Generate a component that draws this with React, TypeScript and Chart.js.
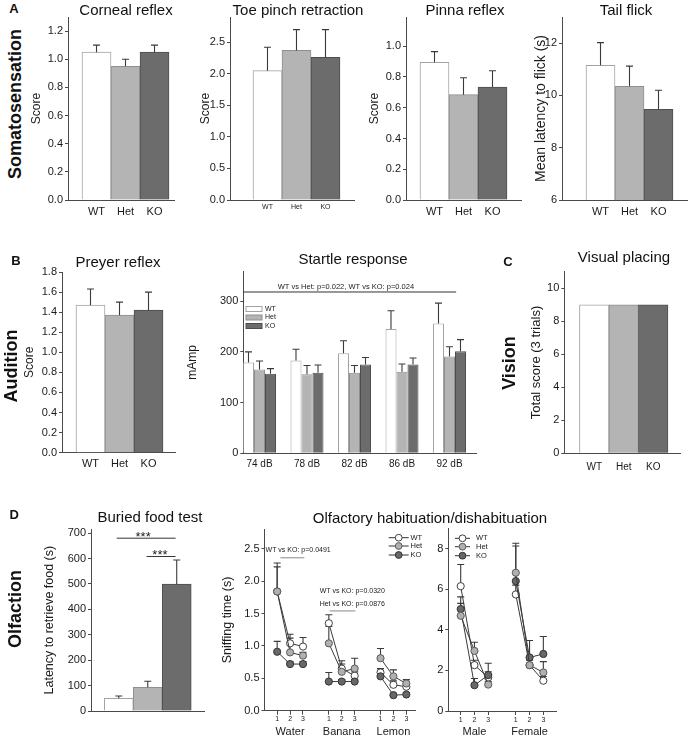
import React, { useEffect, useRef } from 'react';
import { Chart, registerables } from 'chart.js';
Chart.register(...registerables);

const FONT = '"Liberation Sans", Arial, Helvetica, sans-serif';
Chart.defaults.font.family = FONT;
Chart.defaults.color = '#1a1a1a';

// ---------------- data ----------------
const groups = ['WT', 'Het', 'KO'];

const cornealMean = [1.05, 0.95, 1.05];
const cornealTop = [1.1, 1.0, 1.1];
const cornealTicks = [0, 0.2, 0.4, 0.6, 0.8, 1.0, 1.2];

const toeMean = [2.05, 2.37, 2.26];
const toeTop = [2.42, 2.7, 2.7];
const toeTicks = [0, 0.5, 1.0, 1.5, 2.0, 2.5];

const pinnaMean = [0.895, 0.685, 0.735];
const pinnaTop = [0.965, 0.795, 0.84];
const pinnaTicks = [0, 0.2, 0.4, 0.6, 0.8, 1.0];

const tailMean = [11.15, 10.35, 9.47];
const tailTop = [12.02, 11.12, 10.2];
const tailTicks = [6, 8, 10, 12];

const preyerMean = [1.47, 1.37, 1.42];
const preyerTop = [1.63, 1.5, 1.6];
const preyerTicks = [0, 0.2, 0.4, 0.6, 0.8, 1.0, 1.2, 1.4, 1.6, 1.8];

const startleLevels = ['74 dB', '78 dB', '82 dB', '86 dB', '92 dB'];
const startleWT = [179, 183, 197, 245, 256];
const startleHet = [165, 156, 159, 161, 191];
const startleKO = [157, 159, 175, 175, 201];
const startleWTTop = [200, 205, 222, 281, 296];
const startleHetTop = [182, 173, 173, 176, 210];
const startleKOTop = [167, 174, 189, 188, 224];
const startleTicks = [0, 100, 200, 300];

const visualScore = [9, 9, 9];
const visualTicks = [0, 2, 4, 6, 8, 10];

const buriedMean = [50, 93, 499];
const buriedTop = [59, 117, 594];
const buriedTicks = [0, 100, 200, 300, 400, 500, 600, 700];

const trialLabels = ['1', '2', '3'];
const odors = ['Water', 'Banana', 'Lemon'];
const odorWT = [[1.84, 1.04, 0.99], [1.35, 0.65, 0.54], [0.59, 0.4, 0.37]];
const odorHet = [[1.84, 0.9, 0.85], [1.04, 0.6, 0.65], [0.81, 0.53, 0.42]];
const odorKO = [[0.91, 0.72, 0.72], [0.45, 0.45, 0.45], [0.53, 0.24, 0.25]];
const odorWTTop = [[2.28, 1.18, 1.13], [1.48, 0.77, 0.6], [0.65, 0.46, 0.41]];
const odorHetTop = [[2.22, 1.12, 0.9], [1.3, 0.72, 0.81], [0.96, 0.63, 0.48]];
const odorKOTop = [[1.07, 0.76, 0.76], [0.59, 0.48, 0.48], [0.56, 0.27, 0.28]];
const odorTicks = [0, 0.5, 1.0, 1.5, 2.0, 2.5];

const socials = ['Male', 'Female'];
const socialWT = [[6.15, 2.26, 1.65], [5.74, 2.26, 1.49]];
const socialHet = [[4.69, 2.96, 1.3], [6.81, 2.26, 1.9]];
const socialKO = [[5.02, 1.27, 1.77], [6.4, 2.64, 2.81]];
const socialWTTop = [[7.22, 2.5, 1.93], [6.2, 2.5, 1.7]];
const socialHetTop = [[5.3, 3.39, 1.45], [8.26, 2.6, 2.43]];
const socialKOTop = [[5.62, 1.6, 2.35], [8.13, 3.47, 3.67]];
const socialTicks = [0, 2, 4, 6, 8];

// ---------------- styles ----------------
const AX = '#4a4a4a';
const TXT = '#1a1a1a';
const ERR = '#3a3a3a';
const FILL = ['#ffffff', '#b4b4b4', '#6c6c6c'];
const EDGE = ['#a3a3a3', '#8f8f8f', '#4e4e4e'];
const MFILL = ['#ffffff', '#b0b0b0', '#686868'];
const MEDGE = ['#404040', '#5a5a5a', '#333333'];

// ---------------- plugins ----------------
function errorBars(tops: (number | null)[][], cap: number, before: boolean) {
  const draw = (chart: any) => {
    const ctx = chart.ctx;
    const ys = chart.scales.y;
    ctx.save();
    ctx.strokeStyle = ERR;
    ctx.lineWidth = 1.1;
    tops.forEach((arr, di) => {
      const meta = chart.getDatasetMeta(di);
      arr.forEach((t, i) => {
        const el: any = meta.data[i];
        if (t == null || !el) return;
        const yt = ys.getPixelForValue(t);
        ctx.beginPath();
        ctx.moveTo(el.x, el.y);
        ctx.lineTo(el.x, yt);
        ctx.moveTo(el.x - cap, yt);
        ctx.lineTo(el.x + cap, yt);
        ctx.stroke();
      });
    });
    ctx.restore();
  };
  return before ? { id: 'errBefore', beforeDatasetsDraw: draw } : { id: 'errAfter', afterDatasetsDraw: draw };
}

function annotations(items: any[]) {
  return {
    id: 'ann',
    afterDraw(chart: any) {
      const ctx = chart.ctx;
      const xs = chart.scales.x;
      const ys = chart.scales.y;
      ctx.save();
      items.forEach((it) => {
        if (it.kind === 'line') {
          ctx.strokeStyle = it.color || '#333';
          ctx.lineWidth = 1;
          ctx.beginPath();
          const y = ys.getPixelForValue(it.y);
          ctx.moveTo(xs.getPixelForValue(it.x0), y);
          ctx.lineTo(xs.getPixelForValue(it.x1), y);
          ctx.stroke();
        } else {
          ctx.fillStyle = TXT;
          ctx.font = `${it.size}px ${FONT}`;
          ctx.textAlign = it.align || 'center';
          ctx.textBaseline = it.baseline || 'middle';
          ctx.fillText(it.text, xs.getPixelForValue(it.x), ys.getPixelForValue(it.y));
        }
      });
      ctx.restore();
    },
  };
}

function boxLegend(dx: number, rows: number[], bw: number, bh: number, tdx: number, size: number) {
  return {
    id: 'boxLegend',
    afterDraw(chart: any) {
      const ctx = chart.ctx;
      const a = chart.chartArea;
      ctx.save();
      chart.data.datasets.forEach((d: any, i: number) => {
        const y = a.top + rows[i];
        ctx.fillStyle = d.backgroundColor;
        ctx.strokeStyle = d.borderColor;
        ctx.lineWidth = 1;
        ctx.fillRect(a.left + dx, y - bh / 2, bw, bh);
        ctx.strokeRect(a.left + dx, y - bh / 2, bw, bh);
        ctx.fillStyle = TXT;
        ctx.font = `${size}px ${FONT}`;
        ctx.textAlign = 'left';
        ctx.textBaseline = 'middle';
        ctx.fillText(d.label, a.left + tdx, y);
      });
      ctx.restore();
    },
  };
}

function markerLegend(x0: number, x1: number, rows: number[], tdx: number, size: number) {
  return {
    id: 'markerLegend',
    afterDraw(chart: any) {
      const ctx = chart.ctx;
      const a = chart.chartArea;
      ctx.save();
      chart.data.datasets.forEach((d: any, i: number) => {
        const y = a.top + rows[i];
        ctx.strokeStyle = '#333';
        ctx.lineWidth = 1;
        ctx.beginPath();
        ctx.moveTo(a.left + x0, y);
        ctx.lineTo(a.left + x1, y);
        ctx.stroke();
        ctx.beginPath();
        ctx.arc(a.left + (x0 + x1) / 2, y, 3.4, 0, Math.PI * 2);
        ctx.fillStyle = d.pointBackgroundColor;
        ctx.fill();
        ctx.strokeStyle = d.pointBorderColor;
        ctx.stroke();
        ctx.fillStyle = TXT;
        ctx.font = `${size}px ${FONT}`;
        ctx.textAlign = 'left';
        ctx.textBaseline = 'middle';
        ctx.fillText(d.label, a.left + tdx, y);
      });
      ctx.restore();
    },
  };
}

function groupLabels(labels: string[], dy: number, size: number) {
  return {
    id: 'groupLabels',
    afterDraw(chart: any) {
      const ctx = chart.ctx;
      const xs = chart.scales.x;
      ctx.save();
      ctx.fillStyle = TXT;
      ctx.font = `${size}px ${FONT}`;
      ctx.textAlign = 'center';
      ctx.textBaseline = 'middle';
      labels.forEach((l, g) => {
        ctx.fillText(l, xs.getPixelForValue(g * 4 + 1), chart.chartArea.bottom + dy);
      });
      ctx.restore();
    },
  };
}

// ---------------- helpers ----------------
function seriesPoints(vals: (number | null)[][]) {
  const pts: any[] = [];
  vals.forEach((arr, g) => {
    if (g > 0) pts.push({ x: g * 4 - 1, y: null });
    arr.forEach((v, t) => pts.push({ x: g * 4 + t, y: v }));
  });
  return pts;
}
function seriesTops(vals: (number | null)[][]) {
  return seriesPoints(vals).map((p) => p.y);
}
function trialPositions(n: number) {
  const out: number[] = [];
  for (let g = 0; g < n; g++) for (let t = 0; t < 3; t++) out.push(g * 4 + t);
  return out;
}

function singleBars(vals: number[]) {
  return () => [
    {
      label: 'score',
      data: vals.map((v, i) => ({ x: i, y: v })),
      backgroundColor: FILL,
      borderColor: EDGE,
      borderWidth: 1,
      borderSkipped: 'start',
      categoryPercentage: 1,
      barPercentage: 1,
    },
  ];
}

function lineDs(label: string, vals: number[][], ci: number, order: number) {
  return {
    label,
    data: seriesPoints(vals),
    borderColor: '#3a3a3a',
    borderWidth: 1,
    pointRadius: 3.6,
    pointBorderWidth: 1,
    pointBackgroundColor: MFILL[ci],
    pointBorderColor: MEDGE[ci],
    spanGaps: false,
    tension: 0,
    fill: false,
    order,
    clip: false,
  };
}

function makePanel(o: any) {
  const ts = o.yTitleSize ?? 12;
  const lh = ts * 1.2;
  const left = Math.floor(o.yTitle ? o.yTitleX - lh / 2 - 2 : o.ax0 - o.yW);
  const top = Math.floor(o.ay0 - (o.padT ?? 10));
  const w = Math.round(o.ax1 + (o.padR ?? 10) - left);
  const h = Math.round(o.ay1 + (o.xH ?? 24) - top);
  const yW = o.ax0 - left;
  const padT = o.ay0 - top;
  const xH = h - (o.ay1 - top);
  const padR = w - (o.ax1 - left);
  const xf = o.xFont || 10;
  const xtl = o.xTickLen || 0;
  const build = () => ({
    type: o.type,
    data: { datasets: o.datasets() },
    options: {
      animation: false,
      responsive: false,
      maintainAspectRatio: false,
      devicePixelRatio: 1,
      events: [],
      layout: { padding: { top: padT, right: padR, left: 0, bottom: 0 } },
      plugins: { legend: { display: false }, tooltip: { enabled: false }, title: { display: false } },
      scales: {
        x: {
          type: 'linear',
          min: o.xMin,
          max: o.xMax,
          offset: false,
          afterBuildTicks: (sc: any) => {
            sc.ticks = o.xTicks.map((v: number) => ({ value: v }));
          },
          afterFit: (sc: any) => {
            sc.height = xH;
          },
          grid: { display: true, offset: false, drawOnChartArea: false, drawTicks: xtl > 0, tickLength: xtl, color: AX, lineWidth: 1 },
          border: { display: true, color: AX, width: 1 },
          ticks: {
            display: !!o.xFont,
            autoSkip: false,
            maxRotation: 0,
            minRotation: 0,
            font: { size: xf },
            color: TXT,
            padding: (o.xCenter ?? 10) - (xf * 1.2) / 2 - xtl,
            callback: (v: any) => o.xLabel(Number(v)),
          },
        },
        y: {
          type: 'linear',
          min: o.yMin,
          max: o.yMax,
          afterBuildTicks: (sc: any) => {
            sc.ticks = o.yTicks.map((v: number) => ({ value: v }));
          },
          afterFit: (sc: any) => {
            sc.width = yW;
          },
          grid: { display: true, drawOnChartArea: false, drawTicks: true, tickLength: 3, color: AX, lineWidth: 1 },
          border: { display: true, color: AX, width: 1 },
          ticks: {
            font: { size: 11 },
            color: TXT,
            padding: 2,
            callback: (v: any) => Number(v).toFixed(o.yDec),
          },
          title: o.yTitle
            ? {
                display: true,
                text: o.yTitle,
                font: { size: ts },
                color: TXT,
                padding: { top: o.yTitleX - left - lh / 2, bottom: 0 },
              }
            : { display: false },
        },
      },
    },
    plugins: o.plugins ? o.plugins() : [],
  });
  return { left, top, w, h, build };
}

const groupLabel = (v: number) => groups[v] ?? '';

// ---------------- panels ----------------
const PANELS = [
  makePanel({
    type: 'bar', ax0: 68, ay0: 17, ax1: 174, ay1: 200,
    xMin: -0.983, xMax: 2.672, xTicks: [0, 1, 2], xLabel: groupLabel, xFont: 11, xCenter: 11.7,
    yMin: 0, yMax: 1.3, yTicks: cornealTicks, yDec: 1, yTitle: 'Score', yTitleX: 37,
    datasets: singleBars(cornealMean), plugins: () => [errorBars([cornealTop], 3.5, false)],
  }),
  makePanel({
    type: 'bar', ax0: 230, ay0: 17, ax1: 354, ay1: 200,
    xMin: -1.293, xMax: 2.983, xTicks: [0, 1, 2], xLabel: groupLabel, xFont: 7, xCenter: 6.7,
    yMin: 0, yMax: 2.9, yTicks: toeTicks, yDec: 1, yTitle: 'Score', yTitleX: 206,
    datasets: singleBars(toeMean), plugins: () => [errorBars([toeTop], 3.5, false)],
  }),
  makePanel({
    type: 'bar', ax0: 406, ay0: 17, ax1: 521, ay1: 200,
    xMin: -0.983, xMax: 2.983, xTicks: [0, 1, 2], xLabel: groupLabel, xFont: 11, xCenter: 11.7,
    yMin: 0, yMax: 1.19, yTicks: pinnaTicks, yDec: 1, yTitle: 'Score', yTitleX: 375,
    datasets: singleBars(pinnaMean), plugins: () => [errorBars([pinnaTop], 3.5, false)],
  }),
  makePanel({
    type: 'bar', ax0: 562, ay0: 17, ax1: 687, ay1: 200, padR: 1,
    xMin: -1.328, xMax: 2.983, xTicks: [0, 1, 2], xLabel: groupLabel, xFont: 11, xCenter: 11.7,
    yMin: 6, yMax: 13, yTicks: tailTicks, yDec: 0, yTitle: 'Mean latency to flick (s)', yTitleX: 541, yTitleSize: 14,
    datasets: singleBars(tailMean), plugins: () => [errorBars([tailTop], 3.5, false)],
  }),
  makePanel({
    type: 'bar', ax0: 62, ay0: 272, ax1: 175, ay1: 452.7,
    xMin: -0.983, xMax: 2.914, xTicks: [0, 1, 2], xLabel: groupLabel, xFont: 11, xCenter: 11.3,
    yMin: 0, yMax: 1.8, yTicks: preyerTicks, yDec: 1, yTitle: 'Score', yTitleX: 30,
    datasets: singleBars(preyerMean), plugins: () => [errorBars([preyerTop], 3.5, false)],
  }),
  makePanel({
    type: 'bar', ax0: 243.3, ay0: 271.7, ax1: 476, ay1: 453.3,
    xMin: -0.341, xMax: 4.558, xTicks: [0, 1, 2, 3, 4], xLabel: (v: number) => startleLevels[v] ?? '', xFont: 10, xCenter: 10.7,
    yMin: 0, yMax: 358, yTicks: startleTicks, yDec: 0, yTitle: 'mAmp', yTitleX: 193,
    datasets: () =>
      [startleWT, startleHet, startleKO].map((vals, ci) => ({
        label: groups[ci],
        data: vals.map((v, i) => ({ x: i, y: v })),
        backgroundColor: FILL[ci],
        borderColor: EDGE[ci],
        borderWidth: 1,
        borderSkipped: 'start',
        categoryPercentage: 0.695,
        barPercentage: 1,
      })),
    plugins: () => [
      errorBars([startleWTTop, startleHetTop, startleKOTop], 3.5, false),
      boxLegend(2.7, [37.3, 45.8, 54.3], 16, 5, 21.7, 7),
      annotations([
        { kind: 'line', x0: -0.34, x1: 4.14, y: 318, color: '#333' },
        { kind: 'text', x: 1.82, y: 328, text: 'WT vs Het: p=0.022, WT vs KO: p=0.024', size: 7.5 },
      ]),
    ],
  }),
  makePanel({
    type: 'bar', ax0: 564.3, ay0: 271.7, ax1: 680, ay1: 453.3,
    xMin: -1.014, xMax: 2.908, xTicks: [0, 1, 2], xLabel: groupLabel, xFont: 10, xCenter: 14,
    yMin: 0, yMax: 11, yTicks: visualTicks, yDec: 0, yTitle: 'Total score (3 trials)', yTitleX: 536.7, yTitleSize: 13,
    datasets: singleBars(visualScore),
  }),
  makePanel({
    type: 'bar', ax0: 91, ay0: 529.3, ax1: 204, ay1: 711, xH: 12,
    xMin: -0.959, xMax: 2.941, xTicks: [0, 1, 2], xLabel: groupLabel, xFont: 0,
    yMin: 0, yMax: 715, yTicks: buriedTicks, yDec: 0, yTitle: 'Latency to retrieve food (s)', yTitleX: 50, yTitleSize: 12.5,
    datasets: singleBars(buriedMean),
    plugins: () => [
      errorBars([buriedTop], 3.5, false),
      annotations([
        { kind: 'line', x0: -0.07, x1: 1.96, y: 680, color: '#333' },
        { kind: 'text', x: 0.84, y: 670, text: '***', size: 13, baseline: 'alphabetic' },
        { kind: 'line', x0: 0.96, x1: 1.96, y: 608, color: '#333' },
        { kind: 'text', x: 1.42, y: 598, text: '***', size: 13, baseline: 'alphabetic' },
      ]),
    ],
  }),
  makePanel({
    type: 'line', ax0: 264.5, ay0: 529.3, ax1: 415, ay1: 710.7, padR: 14, xH: 27,
    xMin: -0.98, xMax: 10.67, xTicks: trialPositions(3), xLabel: (v: number) => trialLabels[v % 4] ?? '', xFont: 7, xCenter: 8.6, xTickLen: 4,
    yMin: 0, yMax: 2.8, yTicks: odorTicks, yDec: 1, yTitle: 'Sniffing time (s)', yTitleX: 227.3, yTitleSize: 12.5,
    datasets: () => [lineDs('WT', odorWT, 0, 2), lineDs('Het', odorHet, 1, 0), lineDs('KO', odorKO, 2, 1)],
    plugins: () => [
      errorBars([seriesTops(odorWTTop), seriesTops(odorHetTop), seriesTops(odorKOTop)], 3.5, true),
      markerLegend(124.2, 144.2, [8.4, 16.7, 25.7], 146, 7.5),
      groupLabels(odors, 21, 11),
      annotations([
        { kind: 'text', x: -0.9, y: 2.48, text: 'WT vs KO: p=0.0491', size: 7, align: 'left' },
        { kind: 'line', x0: 0.25, x1: 2.1, y: 2.36, color: '#888' },
        { kind: 'text', x: 3.29, y: 1.85, text: 'WT vs KO: p=0.0320', size: 7, align: 'left' },
        { kind: 'text', x: 3.29, y: 1.64, text: 'Het vs KO: p=0.0876', size: 7, align: 'left' },
        { kind: 'line', x0: 4.07, x1: 6.05, y: 1.54, color: '#888' },
      ]),
    ],
  }),
  makePanel({
    type: 'line', ax0: 448.3, ay0: 528.3, ax1: 556.7, ay1: 711, yW: 18, xH: 27,
    xMin: -0.9, xMax: 6.97, xTicks: trialPositions(2), xLabel: (v: number) => trialLabels[v % 4] ?? '', xFont: 7, xCenter: 8.6, xTickLen: 4,
    yMin: 0, yMax: 9, yTicks: socialTicks, yDec: 0,
    datasets: () => [lineDs('WT', socialWT, 0, 2), lineDs('Het', socialHet, 1, 0), lineDs('KO', socialKO, 2, 1)],
    plugins: () => [
      errorBars([seriesTops(socialWTTop), seriesTops(socialHetTop), seriesTops(socialKOTop)], 3.5, true),
      markerLegend(6.7, 21.7, [10, 18.4, 27.4], 27.7, 7.5),
      groupLabels(socials, 20.7, 11),
    ],
  }),
];

const LABELS = [
  { x: 14, y: 7.5, s: 13, b: true, t: 'A' },
  { x: 15, y: 104, s: 18, b: true, r: true, t: 'Somatosensation' },
  { x: 126, y: 8.5, s: 15, t: 'Corneal reflex' },
  { x: 298, y: 8.5, s: 15, t: 'Toe pinch retraction' },
  { x: 465, y: 8.5, s: 15, t: 'Pinna reflex' },
  { x: 626, y: 8.5, s: 15, t: 'Tail flick' },
  { x: 16, y: 260, s: 13, b: true, t: 'B' },
  { x: 11, y: 366, s: 18, b: true, r: true, t: 'Audition' },
  { x: 118, y: 260.5, s: 15, t: 'Preyer reflex' },
  { x: 353, y: 257.5, s: 15, t: 'Startle response' },
  { x: 508, y: 261, s: 13, b: true, t: 'C' },
  { x: 624, y: 256, s: 15, t: 'Visual placing' },
  { x: 509, y: 363, s: 18, b: true, r: true, t: 'Vision' },
  { x: 14.3, y: 514, s: 13, b: true, t: 'D' },
  { x: 15, y: 609, s: 18, b: true, r: true, t: 'Olfaction' },
  { x: 150, y: 516, s: 15, t: 'Buried food test' },
  { x: 430, y: 516.7, s: 15, t: 'Olfactory habituation/dishabituation' },
];

function ChartCanvas({ panel }: { panel: any }) {
  const ref = useRef<HTMLCanvasElement>(null);
  useEffect(() => {
    const chart = new Chart(ref.current as HTMLCanvasElement, panel.build() as any);
    return () => chart.destroy();
  }, [panel]);
  return (
    <canvas
      ref={ref}
      width={panel.w}
      height={panel.h}
      style={{ position: 'absolute', left: panel.left, top: panel.top, width: panel.w, height: panel.h }}
    />
  );
}

export default function App() {
  return (
    <div
      style={{
        position: 'absolute',
        left: 0,
        top: 0,
        width: 688,
        height: 737,
        overflow: 'hidden',
        background: '#ffffff',
        fontFamily: FONT,
      }}
    >
      {PANELS.map((p, i) => (
        <ChartCanvas key={i} panel={p} />
      ))}
      {LABELS.map((l, i) => (
        <div
          key={i}
          style={{
            position: 'absolute',
            left: l.x,
            top: l.y,
            transform: `translate(-50%, -50%)${l.r ? ' rotate(-90deg)' : ''}`,
            fontSize: l.s,
            fontWeight: l.b ? 700 : 400,
            lineHeight: 1,
            whiteSpace: 'nowrap',
            color: '#111',
          }}
        >
          {l.t}
        </div>
      ))}
    </div>
  );
}
